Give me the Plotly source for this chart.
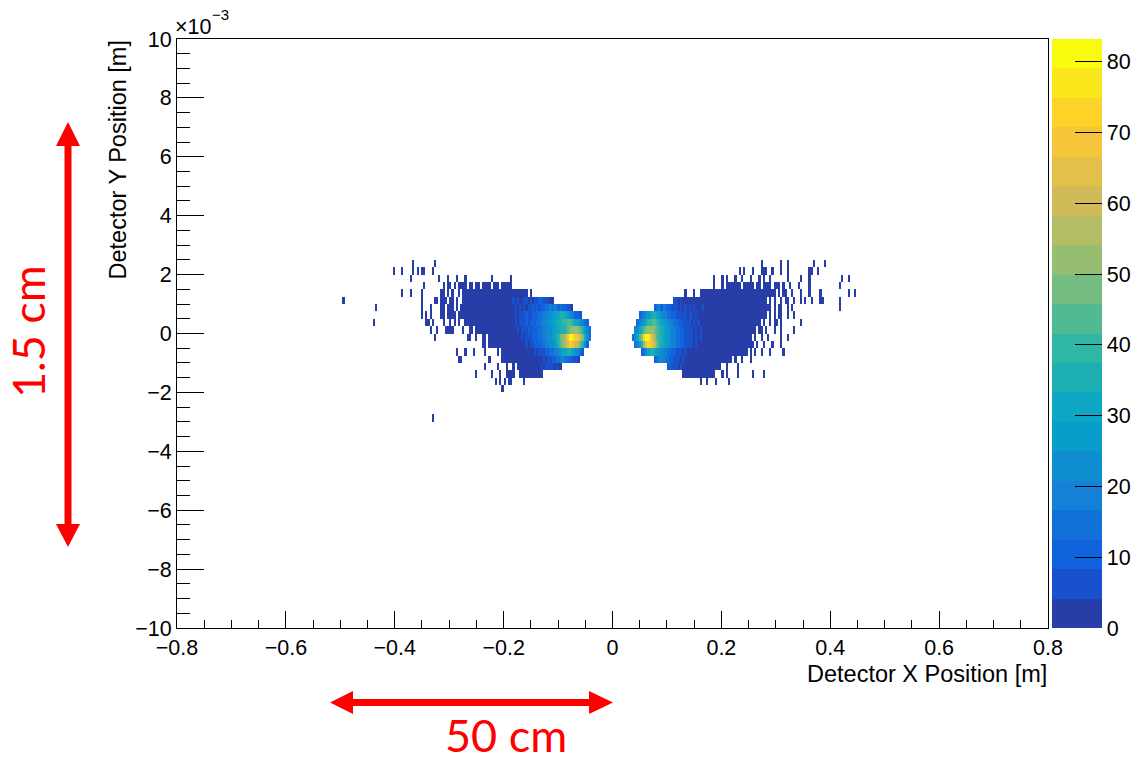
import plotly.graph_objects as go

# Histogram binning: 4 mm bins in x over [-0.8, 0.8] m, 0.25e-3 m bins in y over [-10, 10] x1e-3 m
X_MIN, X_MAX, NX = -0.8, 0.8, 400
Y_MIN, Y_MAX, NY = -10.0, 10.0, 80
Z_MAX = 83.2

# Entries per bin for each level character ('.' = empty bin)
LEVELS = {'1': 2, '2': 6, '3': 10, '4': 14, '5': 18, '6': 22, '7': 26, '8': 30,
          '9': 34, 'a': 38, 'b': 42, 'c': 46, 'd': 50, 'e': 54, 'f': 58, 'g': 62,
          'h': 66, 'i': 70, 'j': 74, 'k': 80, 'l': 83}

# Row k covers y in [k*0.25, (k+1)*0.25] x1e-3 m; bin i covers x in [i*0.004, (i+1)*0.004] m.
# Segments: (first_bin, pattern) or (first_bin, last_bin, level)
LEFT_LOBE = {
    9: [(-92, "1"), (-82, "1")],
    8: [(-101, "1"), (-97, "1"), (-92, "1.1.11"), (-83, "1")],
    7: [(-93, "1"), (-80, "1...1...1...1"), (-56, "1"), (-47, "1")],
    6: [(-87, "1"), (-78, "1.11.1.1111.11.11.1111.111.11111")],
    5: [(-97, "1"), (-93, "1"), (-88, "1"), (-79, "11.1.1..1.1"), (-68, -41, "1"), (-40, "1.1")],
    4: [(-124, "1"), (-88, "1"), (-82, "11"), (-79, "111.11.1..11"), (-67, -48, "1"),
        (-47, "12121122121223322211")],
    3: [(-109, "1"), (-88, "1"), (-84, "1"), (-79, "11.111.1.1"), (-69, -46, "1"),
        (-45, "212121223232334454543433221")],
    2: [(-88, "1"), (-86, "1"), (-84, "1"), (-79, "11.1111.111"), (-68, -46, "1"),
        (-45, "2122232233344556677889987654332")],
    1: [(-110, "1"), (-86, "11"), (-83, "1"), (-78, "1..1.1.1..1"), (-67, -46, "1"),
        (-45, "2122232333445566778899aabba9876543")],
    0: [(-84, "1"), (-81, "1"), (-77, "1111"), (-69, "1..11.111"), (-60, -45, "1"),
        (-44, "2122232333445566778899abcdedcb9754")],
    -1: [(-82, "1"), (-67, "11..1..11"), (-57, -43, "1"),
         (-42, "21222333445566789acegikljihfc964")],
    -2: [(-60, "11"), (-57, -41, "1"), (-40, "212233344556678abdfhjihgeb963")],
    -3: [(-72, "1...1...1....1"), (-53, "1.1"), (-50, -37, "1"),
         (-36, "21222334455678899876532")],
    -4: [(-71, "11"), (-57, "1"), (-51, -33, "1"), (-32, "21223344554433221")],
    -5: [(-59, "1"), (-53, "1"), (-49, "1..1.1"), (-43, "11111111112122221211")],
    -6: [(-63, "1"), (-56, "1"), (-52, "1"), (-49, "1111..11111111111")],
    -7: [(-54, "1.1.1.11.....1")],
    -8: [(-51, "1")],
    -12: [(-83, "1")],
}

RIGHT_LOBE = {
    9: [(68, "1"), (77, "1"), (80, "1"), (92, "1"), (97, "1")],
    8: [(58, "1.1"), (64, "1"), (68, "111"), (73, "1"), (77, "1"), (80, "1"), (90, "11"), (94, "1")],
    7: [(46, "1"), (50, "1.1"), (56, "1..1...1...1.1..1"), (80, "1"), (86, "1"), (90, "1"),
        (105, "1"), (108, "1")],
    6: [(46, "1"), (50, "1.1"), (53, "111111.11111.11.1111.111.1"), (81, "1"), (85, "1"),
        (90, "1"), (104, "1")],
    5: [(33, "1"), (37, "1"), (40, 74, "1"), (76, "1.11..1"), (86, "1"), (90, "1"), (95, "1"),
        (108, "1"), (111, "1")],
    4: [(28, "2212"), (32, 70, "1"), (72, "1.1..1.11"), (83, "1"), (86, "1"), (88, "1"),
        (91, "1"), (95, "11"), (104, "1")],
    3: [(19, "3453543322"), (29, "21212121211121111"), (46, 72, "1"), (74, "1.11..1"),
        (82, "1"), (104, "1")],
    2: [(12, "34567899876554433222221221211"), (41, 70, "1"), (72, "1.1.11..1"), (83, "1")],
    1: [(11, "45678aabba98776554433222212121"), (41, 67, "1"), (69, "1..1.11.1"), (86, "1")],
    0: [(10, "5689bcdedcba9877655443322221212"), (41, 65, "1"), (67, "11.1...1..1"), (83, "1")],
    -1: [(9, "468bejkkigdba9877655443322221212"), (41, 63, "1"), (65, "1..1..1"), (77, "1"),
         (80, "1")],
    -2: [(10, "4579dhjihfca9877655443322221211"), (41, 64, "1"), (66, "1..1...1...1")],
    -3: [(13, "34689987765544332221211"), (36, 61, "1"), (63, "1.1..1...1"), (78, "1")],
    -4: [(19, "34565443322212"), (33, 54, "1"), (56, "1..1"), (63, "1")],
    -5: [(25, "2322212111"), (35, 49, "1"), (52, "1"), (57, "1")],
    -6: [(32, 46, "1"), (50, "1.1"), (57, "1"), (64, "1"), (69, "1")],
    -7: [(40, "1"), (43, "1"), (47, "1"), (53, "1")],
}

X_TICKS = [-0.8, -0.6, -0.4, -0.2, 0.0, 0.2, 0.4, 0.6, 0.8]
X_TICK_TEXT = ["\u22120.8", "\u22120.6", "\u22120.4", "\u22120.2", "0", "0.2", "0.4", "0.6", "0.8"]
Y_TICKS = [-10, -8, -6, -4, -2, 0, 2, 4, 6, 8, 10]
Y_TICK_TEXT = ["\u221210", "\u22128", "\u22126", "\u22124", "\u22122", "0", "2", "4", "6", "8", "10"]
Z_TICKS = [0, 10, 20, 30, 40, 50, 60, 70, 80]


def fill(z, lobe):
    for k, segs in lobe.items():
        row = z[k + NY // 2]
        for seg in segs:
            if len(seg) == 3:
                first, last, ch = seg
                for i in range(first, last + 1):
                    row[i + NX // 2] = LEVELS[ch]
            else:
                first, pattern = seg
                for off, ch in enumerate(pattern):
                    if ch != ".":
                        row[first + off + NX // 2] = LEVELS[ch]


z = [[None] * NX for _ in range(NY)]
fill(z, LEFT_LOBE)
fill(z, RIGHT_LOBE)
x_edges = [X_MIN + n * (X_MAX - X_MIN) / NX for n in range(NX + 1)]
y_edges = [Y_MIN + n * (Y_MAX - Y_MIN) / NY for n in range(NY + 1)]

# "Bird" palette split into 20 contour bands
BIRD = [(0.2082, 0.1664, 0.5293), (0.0592, 0.3599, 0.8684), (0.0780, 0.5041, 0.8385),
        (0.0232, 0.6419, 0.7914), (0.1802, 0.7178, 0.6425), (0.5301, 0.7492, 0.4662),
        (0.8186, 0.7328, 0.3499), (0.9956, 0.7862, 0.1968), (0.9764, 0.9832, 0.0539)]


def bird(f):
    pos = f * 8
    n = min(int(pos), 7)
    t = pos - n
    c = [BIRD[n][m] + (BIRD[n + 1][m] - BIRD[n][m]) * t for m in range(3)]
    return "rgb(%d,%d,%d)" % tuple(round(255 * v) for v in c)


N_CONT = 20
colorscale = []
for b in range(N_CONT):
    idx = min(int((b + 0.99) * 255 / N_CONT), 254)
    col = bird(idx / 254)
    colorscale += [[b / N_CONT, col], [(b + 1) / N_CONT, col]]

FONT = "Liberation Sans, Arial, sans-serif"
RED_FONT = "Lato, Open Sans, sans-serif"
RED = "#ff0000"
TICK_SIZE = 21.5
TITLE_SIZE = 23.5

# frame in pixels
W, H = 1137, 763
L, R, T, B = 177, 1048, 39, 628


def fx(px):
    return (px - L) / (R - L)


def fy(py):
    return (B - py) / (B - T)


fig = go.Figure(go.Heatmap(
    z=z, x=x_edges, y=y_edges, zmin=0, zmax=Z_MAX, colorscale=colorscale,
    hoverongaps=False,
    colorbar=dict(
        x=fx(1052), xanchor="left", xref="paper", y=0.5, yanchor="middle", yref="paper",
        len=1, lenmode="fraction", thickness=50, thicknessmode="pixels",
        xpad=0, ypad=0, outlinewidth=0,
        tickmode="array", tickvals=Z_TICKS, ticks="inside", ticklen=27, tickwidth=1.3,
        tickcolor="black", tickfont=dict(family=FONT, size=TICK_SIZE, color="black"),
    ),
))

fig.update_layout(
    width=W, height=H,
    margin=dict(l=L, r=W - R, t=T, b=H - B, autoexpand=False),
    paper_bgcolor="white", plot_bgcolor="white",
    showlegend=False,
)

fig.update_xaxes(
    range=[X_MIN, X_MAX], tickmode="array", tickvals=X_TICKS, ticktext=X_TICK_TEXT,
    ticks="inside", ticklen=17, tickwidth=1, tickcolor="black",
    minor=dict(ticks="inside", ticklen=8, tickwidth=1, tickcolor="black",
               tickmode="linear", tick0=-0.8, dtick=0.05),
    showline=True, linecolor="black", linewidth=1, mirror=True,
    showgrid=False, zeroline=False,
    tickfont=dict(family=FONT, size=TICK_SIZE, color="black"),
)
fig.update_yaxes(
    range=[Y_MIN, Y_MAX], tickmode="array", tickvals=Y_TICKS, ticktext=Y_TICK_TEXT,
    ticks="inside", ticklen=27, tickwidth=1, tickcolor="black",
    minor=dict(ticks="inside", ticklen=13, tickwidth=1, tickcolor="black",
               tickmode="linear", tick0=-10, dtick=0.5),
    showline=True, linecolor="black", linewidth=1, mirror=True,
    showgrid=False, zeroline=False,
    tickfont=dict(family=FONT, size=TICK_SIZE, color="black"),
)

annotations = [
    dict(text="Detector X Position [m]", x=1.0, y=fy(674), xref="paper", yref="paper",
         xanchor="right", yanchor="middle", showarrow=False, borderpad=0,
         font=dict(family=FONT, size=TITLE_SIZE, color="black")),
    dict(text="Detector Y Position [m]", x=fx(117), y=1.0, xref="paper", yref="paper",
         xanchor="center", yanchor="top", textangle=-90, showarrow=False,
         font=dict(family=FONT, size=TITLE_SIZE, color="black")),
    dict(text="\u00d710", x=fx(173), y=fy(41), xref="paper", yref="paper",
         xanchor="left", yanchor="bottom", showarrow=False,
         font=dict(family=FONT, size=TICK_SIZE, color="black")),
    dict(text="\u22123", x=fx(210), y=fy(25), xref="paper", yref="paper",
         xanchor="left", yanchor="bottom", showarrow=False,
         font=dict(family=FONT, size=15, color="black")),
    dict(text="1.5 cm", x=fx(28), y=fy(332), xref="paper", yref="paper",
         xanchor="center", yanchor="middle", textangle=-90, showarrow=False,
         font=dict(family=RED_FONT, size=45, color=RED)),
    dict(text="50 cm", x=fx(506), y=fy(H), xref="paper", yref="paper",
         xanchor="center", yanchor="bottom", showarrow=False, borderpad=0,
         font=dict(family=RED_FONT, size=45, color=RED)),
]
fig.update_layout(annotations=annotations)


def tri(p1, p2, p3):
    pts = [(fx(a), fy(b)) for a, b in (p1, p2, p3)]
    return "M %f,%f L %f,%f L %f,%f Z" % (pts[0] + pts[1] + pts[2])


shape_style = dict(xref="paper", yref="paper", fillcolor=RED, line=dict(width=0), layer="above")
shapes = [
    # vertical double arrow
    dict(type="rect", x0=fx(64.5), x1=fx(71.5), y0=fy(144), y1=fy(526), **shape_style),
    dict(type="path", path=tri((56, 146), (80, 146), (68, 122)), **shape_style),
    dict(type="path", path=tri((56, 524), (80, 524), (68, 547)), **shape_style),
    # horizontal double arrow
    dict(type="rect", x0=fx(350), x1=fx(592), y0=fy(699), y1=fy(706), **shape_style),
    dict(type="path", path=tri((353, 691), (353, 714), (330, 702.5)), **shape_style),
    dict(type="path", path=tri((589, 691), (589, 714), (613, 702.5)), **shape_style),
]
fig.update_layout(shapes=shapes)

fig.write_html("out.html")
